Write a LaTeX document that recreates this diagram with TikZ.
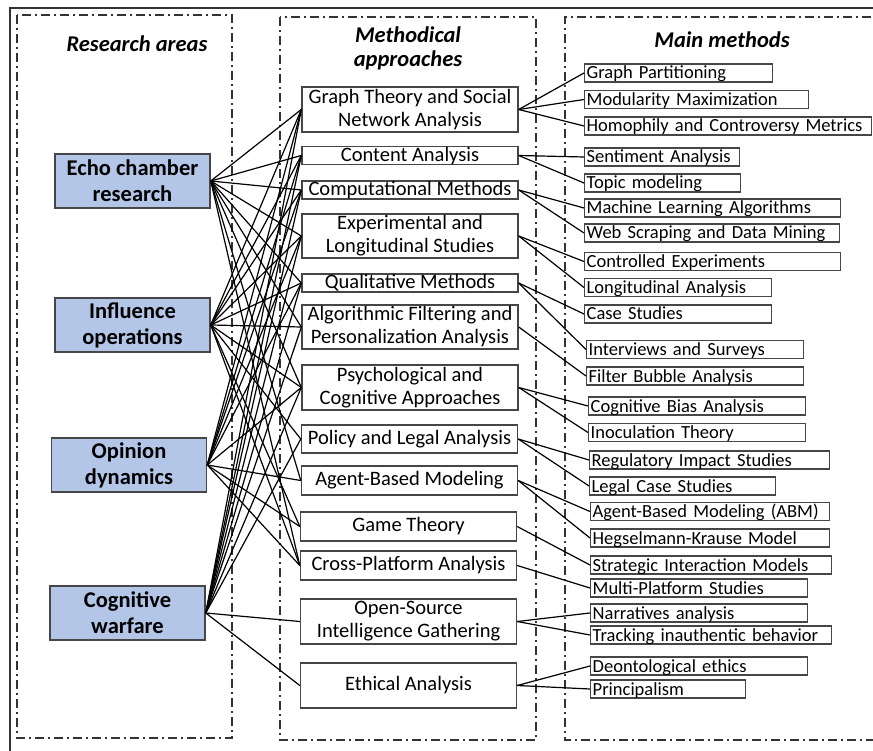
\documentclass[tikz,border=0pt]{standalone}
\usepackage{fontspec}
\setmainfont{Carlito}
\definecolor{areablue}{RGB}{180,198,231}
\definecolor{boxgray}{RGB}{70,70,70}
\tikzset{
    frame/.style={line width=1.5pt, dash pattern=on 9pt off 4pt on 2pt off 4pt, black!80},
    areabox/.style={draw=boxgray, line width=1.5pt, fill=areablue, minimum width=155pt, minimum height=54pt,
        inner sep=0pt, align=center, font=\fontsize{22.5}{26}\selectfont\bfseries},
    approach/.style={draw=boxgray, line width=1.4pt, minimum width=216pt, inner sep=0.5pt,
        align=center, font=\fontsize{20.5}{23}\selectfont},
    slim/.style={text height=14pt, text depth=2pt, inner ysep=1pt},
    method/.style={draw=boxgray, line width=1.4pt, anchor=west, inner xsep=2pt, inner ysep=1pt,
        text height=14pt, text depth=2pt, align=left, font=\fontsize{18.5}{20}\selectfont,
        execute at begin node=\hbox\bgroup, execute at end node=\egroup},
    title/.style={align=center, font=\fontsize{22.5}{24}\selectfont\bfseries\itshape},
    link/.style={line width=1.2pt, black}
}
\begin{document}
\begin{tikzpicture}[x=1pt,y=-1pt]
    \useasboundingbox[fill=white] (0,0) rectangle (873,751);
    \draw[line width=2pt, black!80] (10,8) rectangle (890,770);

    % columns
    \draw[frame] (17,15) rectangle (232,738);
    \draw[frame] (280,17) rectangle (536,740);
    \draw[frame] (890,17) -- (565,17) -- (565,740) -- (890,740);

    \node[title] (t1) at (137,44) {Research areas};
    \node[title] (t2) at (408,48) {Methodical\\approaches};
    \node[title] (t3) at (722,40) {Main methods};

    % research areas
    \node[areabox] (ec) at (132.5,181) {Echo chamber\\research};
    \node[areabox] (io) at (132.5,325) {Influence\\operations};
    \node[areabox] (od) at (129,465) {Opinion\\dynamics};
    \node[areabox] (cw) at (127.5,613) {Cognitive\\warfare};

    % methodical approaches
    \node[approach, minimum height=45pt] (gt) at (410,109.5) {Graph Theory and Social\\Network Analysis};
    \node[approach, slim, minimum height=18pt] (ca) at (410,155.5) {Content Analysis};
    \node[approach, slim, minimum height=18pt] (cm) at (410,190) {Computational Methods};
    \node[approach, minimum height=44pt] (ex) at (410,236) {Experimental and\\Longitudinal Studies};
    \node[approach, slim, minimum height=18pt] (ql) at (410,283) {Qualitative Methods};
    \node[approach, minimum height=44pt] (af) at (410,327) {Algorithmic Filtering and\\Personalization Analysis};
    \node[approach, minimum height=45pt] (pc) at (410,387.5) {Psychological and\\Cognitive Approaches};
    \node[approach, minimum height=28pt] (pl) at (409.5,439) {Policy and Legal Analysis};
    \node[approach, minimum height=29pt] (ab) at (409.5,480.5) {Agent-Based Modeling};
    \node[approach, minimum height=29pt] (gm) at (408.5,526.5) {Game Theory};
    \node[approach, minimum height=29pt] (cp) at (408.5,565.5) {Cross-Platform Analysis};
    \node[approach, minimum height=45pt] (os) at (408.5,621.5) {Open-Source\\Intelligence Gathering};
    \node[approach, minimum height=45pt] (et) at (408.5,685.5) {Ethical Analysis};

    % main methods
    \node[method, text width=184pt] (m1) at (584,73) {Graph Partitioning};
    \node[method, text width=220pt] (m2) at (584,99.5) {Modularity Maximization};
    \node[method, text width=283pt] (m3) at (584,126) {Homophily and Controversy Metrics};
    \node[method, text width=151pt] (m4) at (584,157) {Sentiment Analysis};
    \node[method, text width=152pt] (m5) at (584,183) {Topic modeling};
    \node[method, text width=252pt] (m6) at (584,208) {Machine Learning Algorithms};
    \node[method, text width=251pt] (m7) at (584,233) {Web Scraping and Data Mining};
    \node[method, text width=252pt] (m8) at (584,261.5) {Controlled Experiments};
    \node[method, text width=183pt] (m9) at (584,287.5) {Longitudinal Analysis};
    \node[method, text width=183pt] (m10) at (584,314) {Case Studies};
    \node[method, text width=213pt] (m11) at (586,349.5) {Interviews and Surveys};
    \node[method, text width=213pt] (m12) at (586,376) {Filter Bubble Analysis};
    \node[method, text width=213pt] (m13) at (588,406) {Cognitive Bias Analysis};
    \node[method, text width=213pt] (m14) at (588,432.5) {Inoculation Theory};
    \node[method, text width=236pt] (m15) at (589,460) {Regulatory Impact Studies};
    \node[method, text width=182pt] (m16) at (589,486) {Legal Case Studies};
    \node[method, text width=235pt] (m17) at (590,511.5) {Agent-Based Modeling (ABM)};
    \node[method, text width=235pt] (m18) at (590,538) {Hegselmann-Krause Model};
    \node[method, text width=237pt] (m19) at (590,565) {Strategic Interaction Models};
    \node[method, text width=213pt] (m20) at (590,588) {Multi-Platform Studies};
    \node[method, text width=213pt] (m21) at (590,613) {Narratives analysis};
    \node[method, text width=237pt] (m22) at (590,635) {Tracking inauthentic behavior};
    \node[method, text width=213pt] (m23) at (590,666) {Deontological ethics};
    \node[method, text width=151pt] (m24) at (590,689) {Principalism};

    % areas to approaches
    \foreach \a/\b in {ec/gt, ec/ca, ec/cm, ec/ex, ec/ql, ec/af, ec/pc, ec/ab, ec/cp,
                       io/gt, io/ca, io/cm, io/ex, io/ql, io/af, io/pc, io/pl, io/gm, io/cp,
                       od/gt, od/ca, od/cm, od/ex, od/ql, od/pc, od/ab, od/gm, od/cp,
                       cw/gt, cw/ca, cw/cm, cw/ex, cw/ql, cw/af, cw/pc, cw/pl, cw/os, cw/et}
        \draw[link] (\a.east) -- (\b.west);

    % approaches to methods
    \foreach \a/\b in {gt/m1, gt/m2, gt/m3, ca/m4, ca/m5, cm/m6, cm/m7, ex/m8, ex/m9,
                       ql/m10, ql/m11, af/m12, pc/m13, pc/m14, pl/m15, pl/m16, ab/m17, ab/m18,
                       gm/m19, cp/m20, os/m21, os/m22, et/m23, et/m24}
        \draw[link] (\a.east) -- (\b.west);
\end{tikzpicture}
\end{document}
